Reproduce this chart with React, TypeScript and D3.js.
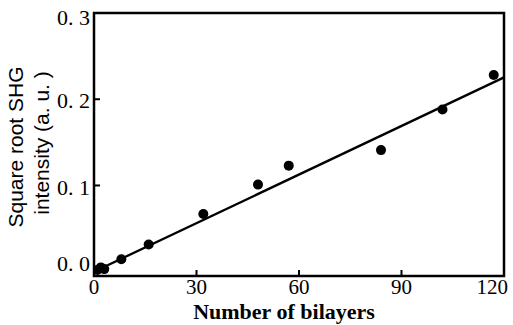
import React from "react";
import * as d3 from "d3";

// measured points (bilayers, sqrt SHG)
const bilayers = [1, 2, 3, 8, 16, 32, 48, 57, 84, 102, 117];
const shgRoot = [0.002, 0.005, 0.003, 0.0145, 0.0315, 0.067, 0.101, 0.123, 0.141, 0.188, 0.228];

// linear fit endpoints
const fitX = [0, 120];
const fitY = [0.0, 0.2253];

const xTicks = [0, 30, 60, 90, 120];
const yTicks = [0.0, 0.1, 0.2, 0.3];
const yTickLabels = ["0. 0", "0. 1", "0. 2", "0. 3"];

const W = 513;
const H = 325;
const left = 94;
const right = 504;
const top = 13;
const bottom = 276;

const App = () => {
  const x = d3.scaleLinear().domain([0, 120]).range([left, right]);
  const y = d3.scaleLinear().domain([-0.005, 0.3]).range([bottom, top]);

  const line = d3
    .line<number>()
    .x((d, i) => x(fitX[i]))
    .y((d) => y(d));

  const serif = "'Liberation Serif', 'DejaVu Serif', serif";
  const sans = "'Liberation Sans', Arial, sans-serif";

  return (
    <svg
      width={W}
      height={H}
      style={{ position: "absolute", left: 0, top: 0, background: "#fff" }}
    >
      <defs>
        <clipPath id="plot">
          <rect x={left} y={top} width={right - left} height={bottom - top} />
        </clipPath>
      </defs>

      {/* fit line */}
      <path d={line(fitY) || ""} fill="none" stroke="#000" strokeWidth={2.3} clipPath="url(#plot)" />

      {/* points */}
      <g clipPath="url(#plot)">
        {bilayers.map((b, i) => (
          <circle key={i} cx={x(b)} cy={y(shgRoot[i])} r={5} fill="#000" />
        ))}
      </g>

      {/* ticks */}
      {yTicks.map((t) => (
        <line key={"yt" + t} x1={left} x2={left + 6} y1={y(t)} y2={y(t)} stroke="#000" strokeWidth={2} />
      ))}
      {xTicks.map((t) => (
        <line key={"xt" + t} x1={x(t)} x2={x(t)} y1={bottom} y2={bottom - 6} stroke="#000" strokeWidth={2} />
      ))}

      {/* frame */}
      <rect
        x={left}
        y={top}
        width={right - left}
        height={bottom - top}
        fill="none"
        stroke="#000"
        strokeWidth={2.5}
      />

      {/* y tick labels */}
      {yTicks.map((t, i) => (
        <text
          key={"yl" + t}
          x={left - 4}
          y={y(t) + (t === 0 ? -6 : t === 0.3 ? 7 : 4)}
          textAnchor="end"
          dominantBaseline="middle"
          fontFamily={serif}
          fontSize={22}
          fill="#000"
        >
          {yTickLabels[i]}
        </text>
      ))}

      {/* x tick labels */}
      {xTicks.map((t, i) => (
        <text
          key={"xl" + t}
          x={i === xTicks.length - 1 ? x(t) + 4 : x(t)}
          y={293.5}
          textAnchor={i === xTicks.length - 1 ? "end" : "middle"}
          fontFamily={serif}
          fontSize={21}
          fill="#000"
        >
          {t}
        </text>
      ))}

      {/* x title */}
      <text
        x={284}
        y={319}
        textAnchor="middle"
        fontFamily={serif}
        fontWeight="bold"
        fontSize={22}
        fill="#000"
      >
        Number of bilayers
      </text>

      {/* y title */}
      <text
        transform="translate(23,147) rotate(-90)"
        textAnchor="middle"
        fontFamily={sans}
        fontSize={21}
        fill="#000"
      >
        Square root SHG
      </text>
      <text
        transform="translate(49,143) rotate(-90)"
        textAnchor="middle"
        fontFamily={sans}
        fontSize={21}
        fill="#000"
      >
        intensity (a. u. )
      </text>
    </svg>
  );
};

export default App;
